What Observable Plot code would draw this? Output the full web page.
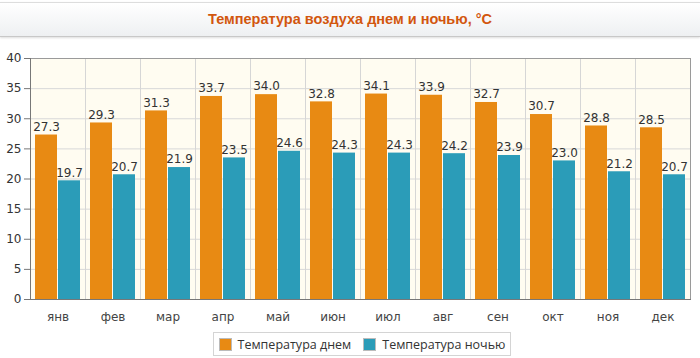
<!DOCTYPE html>
<html><head><meta charset="utf-8">
<script src="https://cdn.jsdelivr.net/npm/d3@7"></script>
<script src="https://cdn.jsdelivr.net/npm/@observablehq/plot@0.6"></script>
<style>
body{margin:0;background:#fff;width:700px;height:358px;overflow:hidden;font-family:"DejaVu Sans",sans-serif;}
#hdr{height:33px;margin-top:2px;border-top:1px solid #ddd;border-bottom:1px solid #c8c8c8;background:linear-gradient(#ffffff,#eef0f2);text-align:center;font:bold 14.5px "Liberation Sans",Arial,sans-serif;color:#d2560e;line-height:33px;box-shadow:0 1px 2px #ddd;}
#chart{height:290px;margin-top:1px}
#leg{position:absolute;left:213px;top:332px;width:296px;height:22px;border:1px solid #d4d4d4;display:flex;align-items:center;justify-content:center;gap:12px;font:12.5px "Open Sans",sans-serif;color:#333;background:#fff;white-space:nowrap}
#leg span.sw{display:inline-block;width:13px;height:13px;margin-right:6px;vertical-align:-2px;border:1px solid #bbb;box-sizing:border-box}
</style></head>
<body>
<div id="hdr">Температура воздуха днем и ночью, °C</div>
<div id="chart"></div>
<div id="leg"><span><span class="sw" style="background:#e88a13"></span>Температура днем</span><span><span class="sw" style="background:#2b9cb8"></span>Температура ночью</span></div>
<script>
const months = ["янв","фев","мар","апр","май","июн","июл","авг","сен","окт","ноя","дек"];
const dayTemps = [27.3,29.3,31.3,33.7,34.0,32.8,34.1,33.9,32.7,30.7,28.8,28.5];
const nightTemps = [19.7,20.7,21.9,23.5,24.6,24.3,24.3,24.2,23.9,23.0,21.2,20.7];
const seriesNames = ["Температура днем","Температура ночью"];
const yTicks = [0,5,10,15,20,25,30,35,40];

const data = [];
months.forEach((m,i)=>{
  data.push({month:m, series:seriesNames[0], value:dayTemps[i]});
  data.push({month:m, series:seriesNames[1], value:nightTemps[i]});
});

const plot = Plot.plot({
  width:700, height:290,
  marginLeft:26, marginRight:6, marginTop:20, marginBottom:29,
  style:{fontFamily:"DejaVu Sans, sans-serif", fontSize:"12px", color:"#333", background:"transparent"},
  fx:{domain:months, padding:0, label:null, axis:null},
  x:{domain:seriesNames, paddingInner:0.04, paddingOuter:0.18, axis:null},
  y:{domain:[0,40], ticks:yTicks, label:null, axis:null},
  color:{domain:seriesNames, range:["#e88a13","#2b9cb8"]},
  marks:[
    Plot.frame({fill:"#fffcf1", stroke:"none", facet:"super"}),
    Plot.gridY(yTicks,{stroke:"#d8d8d8", strokeOpacity:1}),
    Plot.frame({stroke:"#d6d6d6", fill:"none"}),
    Plot.barY(data,{fx:"month", x:"series", y:"value", fill:"series"}),
    Plot.text(data,{fx:"month", x:"series", y:"value", text:d=>d.value.toFixed(1), dy:-8, fill:"#333", fontSize:12}),
    Plot.frame({stroke:"#9a9a9a", facet:"super", anchor:"top"}),
    Plot.frame({stroke:"#9a9a9a", facet:"super", anchor:"right"}),
    Plot.frame({stroke:"#777", facet:"super", anchor:"left"}),
    Plot.frame({stroke:"#777", facet:"super", anchor:"bottom"}),
    Plot.axisY({ticks:yTicks, tickSize:6, tickPadding:3, stroke:"#777", fill:"#333", fontSize:12}),
    Plot.axisFx({anchor:"bottom", tickSize:0, tickPadding:13, fill:"#444", fontSize:12, label:null})
  ]
});
document.getElementById("chart").appendChild(plot);
</script>
</body></html>
